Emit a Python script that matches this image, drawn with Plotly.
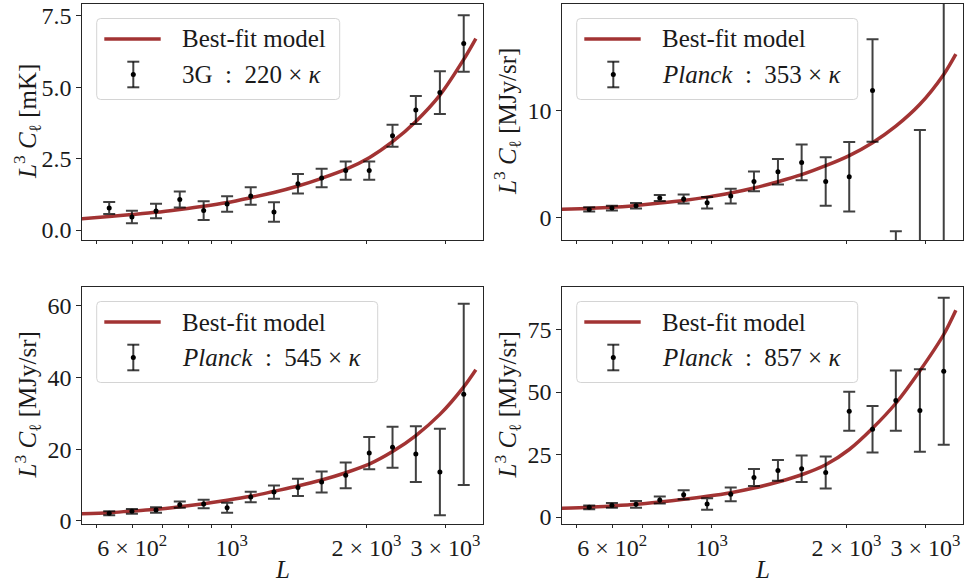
import plotly.graph_objects as go

# ---- data -----------------------------------------------------------------
ell_bins = [533, 599, 678, 766, 866, 977, 1103, 1243, 1406, 1588,
            1797, 2028, 2286, 2577, 2916, 3296]

val_220 = [0.77, 0.455, 0.665, 1.07, 0.68, 0.91, 1.19, 0.63, 1.62, 1.82,
           2.08, 2.08, 3.30, 4.20, 4.81, 6.53]
err_220 = [0.21, 0.22, 0.25, 0.28, 0.33, 0.27, 0.31, 0.34, 0.34, 0.32,
           0.32, 0.32, 0.385, 0.49, 0.75, 0.99]

val_353 = [0.75, 0.87, 1.09, 1.81, 1.72, 1.37, 2.00, 3.37, 4.28, 5.15,
           3.37, 3.81, 11.9, -6.0, -4.0, -5.0]
err_353 = [0.20, 0.22, 0.25, 0.28, 0.42, 0.53, 0.69, 0.92, 1.19, 1.67,
           2.27, 3.25, 4.8, 4.7, 12.2, 27.0]

val_545 = [2.05, 2.61, 2.98, 4.47, 4.65, 3.63, 6.61, 8.0, 9.3, 10.8,
           12.66, 18.9, 20.5, 18.6, 13.6, 35.3]
err_545 = [0.56, 0.65, 0.74, 0.88, 1.21, 1.40, 1.44, 1.86, 2.42, 2.93,
           3.58, 4.51, 5.72, 7.81, 12.1, 25.3]

val_857 = [3.87, 4.67, 5.06, 6.8, 8.93, 5.2, 9.06, 15.85, 18.65, 19.3,
           17.85, 42.3, 35.1, 46.6, 42.6, 58.3]
err_857 = [0.73, 0.93, 1.33, 1.4, 1.8, 2.33, 2.73, 3.4, 4.13, 5.33,
           6.4, 7.8, 9.26, 12.05, 16.5, 29.4]

# best-fit model curves
ell_model = [463, 533, 599, 678, 766, 866, 977, 1103, 1243, 1406, 1588,
             1797, 2028, 2286, 2577, 2916, 3296, 3508]
fit_220 = [0.39, 0.47, 0.54, 0.62, 0.72, 0.83, 0.96, 1.13, 1.31, 1.54, 1.81,
           2.12, 2.53, 3.09, 3.80, 4.72, 5.97, 6.70]
fit_353 = [0.76, 0.84, 0.94, 1.12, 1.34, 1.59, 1.90, 2.28, 2.75, 3.34, 4.00,
           4.84, 5.79, 7.00, 8.55, 10.6, 13.4, 15.3]
fit_545 = [1.95, 2.23, 2.71, 3.17, 3.9, 4.74, 5.69, 6.8, 8.2, 9.68, 11.36,
           13.4, 15.8, 19.3, 23.8, 29.7, 37.4, 42.2]
fit_857 = [3.5, 3.87, 4.4, 5.06, 6.0, 7.06, 8.26, 9.72, 11.6, 14.0, 16.9,
           20.9, 27.0, 35.5, 45.5, 58.5, 73.0, 82.7]

SEP = " \u00a0:\u00a0 "
labels = ["3G" + SEP + "220 × <i>κ</i>",
          "<i>Planck</i>" + SEP + "353 × <i>κ</i>",
          "<i>Planck</i>" + SEP + "545 × <i>κ</i>",
          "<i>Planck</i>" + SEP + "857 × <i>κ</i>"]
units = ["mK", "MJy/sr", "MJy/sr", "MJy/sr"]

x_tick_major = [1000]
x_tick_minor = [500, 700, 800, 900]
x_tick_vals = [600, 1000, 2000, 3000]
x_tick_text = ["6 × 10<sup>2</sup>", "10<sup>3</sup>",
               "2 × 10<sup>3</sup>", "3 × 10<sup>3</sup>"]

y_ticks = [[0.0, 2.5, 5.0, 7.5], [0, 10], [0, 20, 40, 60], [0, 25, 50, 75]]
y_ranges = [[-0.35, 7.91], [-2.12, 20.0], [-0.93, 65.3], [-2.8, 92.0]]

# ---- layout geometry (pixels) --------------------------------------------
W, H = 967, 585
FONT = "Liberation Serif"
INK = "#1a1a1a"
AXC = "#262626"
RED = "rgba(139,0,0,0.8)"
BAR = "rgba(0,0,0,0.75)"
LOG_RANGE = [2.666, 3.561]

# panel boxes: (left, right, top, bottom) in pixels
panels = [(82, 483, 4, 240), (562, 963, 4, 240),
          (82, 483, 287, 524), (562, 963, 287, 524)]


def px(x):
    return x / W


def py(y):
    return 1 - y / H


fig = go.Figure()

series = [(val_220, err_220, fit_220), (val_353, err_353, fit_353),
          (val_545, err_545, fit_545), (val_857, err_857, fit_857)]

for i, (vals, errs, fit) in enumerate(series):
    xa = "x" if i == 0 else f"x{i + 1}"
    ya = "y" if i == 0 else f"y{i + 1}"
    fig.add_trace(go.Scatter(
        x=ell_model, y=fit, mode="lines", xaxis=xa, yaxis=ya,
        line=dict(color=RED, width=3.5, shape="spline", smoothing=0.8),
        showlegend=False, hoverinfo="skip"))
    fig.add_trace(go.Scatter(
        x=ell_bins, y=vals, mode="markers", xaxis=xa, yaxis=ya,
        marker=dict(color="black", size=5),
        error_y=dict(type="data", array=errs, visible=True,
                     color=BAR, thickness=2, width=6),
        showlegend=False))

layout = dict(
    width=W, height=H,
    margin=dict(l=0, r=0, t=0, b=0),
    paper_bgcolor="white", plot_bgcolor="white",
    font=dict(family=FONT, size=24, color=INK),
    showlegend=False,
)

for i, (l, r, t, b) in enumerate(panels):
    key = "" if i == 0 else str(i + 1)
    bottom_row = i >= 2
    xaxis = dict(
        type="log", range=LOG_RANGE,
        domain=[px(l), px(r)], anchor="y" + key,
        showline=True, mirror=True, linecolor=AXC, linewidth=1.2,
        showgrid=False, zeroline=False, automargin=False,
        ticks="outside", ticklen=2.5, tickwidth=1, tickcolor=AXC,
        tickmode="array", tickvals=x_tick_vals,
        showticklabels=bottom_row,
        tickfont=dict(size=24),
        minor=dict(tickmode="array", tickvals=x_tick_minor, ticks="outside",
                   ticklen=2.5, tickwidth=1, tickcolor=AXC,
                   showgrid=False),
    )
    if bottom_row:
        xaxis["ticktext"] = x_tick_text
    layout["xaxis" + key] = xaxis
    # longer tick for the decade 10^3
    layout[f"xaxis{i + 5}"] = dict(
        type="log", range=LOG_RANGE, overlaying="x" + key, anchor="y" + key,
        showline=False, showgrid=False, zeroline=False, automargin=False,
        ticks="outside", ticklen=4.5, tickwidth=1, tickcolor=AXC,
        tickmode="array", tickvals=x_tick_major, showticklabels=False,
    )
    layout["yaxis" + key] = dict(
        range=y_ranges[i], domain=[py(b), py(t)], anchor="x" + key,
        showline=True, mirror=True, linecolor=AXC, linewidth=1.2,
        showgrid=False, zeroline=False, automargin=False,
        ticks="outside", ticklen=4.5, tickwidth=1, tickcolor=AXC,
        tickmode="array", tickvals=y_ticks[i],
        tickformat=".1f" if i == 0 else "d",
        tickfont=dict(size=24),
    )

fig.update_layout(**layout)

# ---- legends, axis titles -------------------------------------------------
shapes = []
annotations = []
legend_w = [243, 281, 281, 281]

for i, (l, r, t, b) in enumerate(panels):
    # rounded legend frame
    x0, x1 = l + 14.7, l + 14.7 + legend_w[i]
    y0, y1 = t + 14.5, t + 95.5
    rad = 4
    path = (f"M {px(x0 + rad)},{py(y0)} L {px(x1 - rad)},{py(y0)} "
            f"Q {px(x1)},{py(y0)} {px(x1)},{py(y0 + rad)} "
            f"L {px(x1)},{py(y1 - rad)} "
            f"Q {px(x1)},{py(y1)} {px(x1 - rad)},{py(y1)} "
            f"L {px(x0 + rad)},{py(y1)} "
            f"Q {px(x0)},{py(y1)} {px(x0)},{py(y1 - rad)} "
            f"L {px(x0)},{py(y0 + rad)} "
            f"Q {px(x0)},{py(y0)} {px(x0 + rad)},{py(y0)} Z")
    shapes.append(dict(type="path", path=path, xref="paper", yref="paper",
                       fillcolor="rgba(255,255,255,0.8)",
                       line=dict(color="#d4d4d4", width=1), layer="above"))
    # model line sample
    shapes.append(dict(type="line", xref="paper", yref="paper",
                       x0=px(l + 22.3), x1=px(l + 78.7),
                       y0=py(t + 35), y1=py(t + 35),
                       line=dict(color=RED, width=3.5), layer="above"))
    # error-bar sample
    cx = l + 51.3
    ytop, ybot, ymid = t + 57.7, t + 83.3, t + 70.5
    shapes.append(dict(type="line", xref="paper", yref="paper",
                       x0=px(cx), x1=px(cx), y0=py(ytop), y1=py(ybot),
                       line=dict(color=BAR, width=2), layer="above"))
    for yy in (ytop, ybot):
        shapes.append(dict(type="line", xref="paper", yref="paper",
                           x0=px(cx - 6), x1=px(cx + 6), y0=py(yy), y1=py(yy),
                           line=dict(color=BAR, width=2), layer="above"))
    shapes.append(dict(type="circle", xref="paper", yref="paper",
                       x0=px(cx - 2.5), x1=px(cx + 2.5),
                       y0=py(ymid - 2.5), y1=py(ymid + 2.5),
                       fillcolor="black", line=dict(width=0), layer="above"))
    annotations.append(dict(text="Best-fit model", xref="paper", yref="paper",
                            x=px(l + 98), y=py(t + 35), xanchor="left",
                            yanchor="middle", showarrow=False,
                            font=dict(size=25)))
    annotations.append(dict(text=labels[i], xref="paper", yref="paper",
                            x=px(l + 98), y=py(t + 70.5), xanchor="left",
                            yanchor="middle", showarrow=False,
                            font=dict(size=25)))
    # y-axis title
    annotations.append(dict(
        text=f"<i>L</i><sup>3</sup> <i>C</i><sub>ℓ</sub> [{units[i]}]",
        xref="paper", yref="paper", x=px(l - 55), y=py((t + b) / 2),
        xanchor="center", yanchor="middle", textangle=-90, showarrow=False,
        font=dict(size=25)))
    if i >= 2:
        annotations.append(dict(text="<i>L</i>", xref="paper", yref="paper",
                                x=px((l + r) / 2), y=py(584),
                                xanchor="center", yanchor="bottom",
                                borderpad=0, showarrow=False,
                                font=dict(size=25)))

fig.update_layout(shapes=shapes, annotations=annotations)
fig.write_html("out.html")
